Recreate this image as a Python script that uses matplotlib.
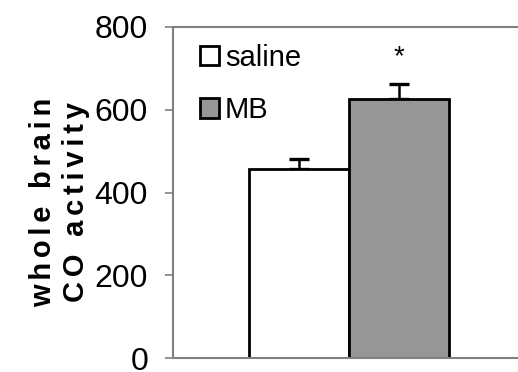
import matplotlib
matplotlib.use('Agg')
import matplotlib.pyplot as plt

groups = ['saline', 'MB']
means = [457, 627]
errs = [24, 35]
colors = ['white', '#969696']
yticks = [0, 200, 400, 600, 800]
ylabel_lines = ['whole brain', 'CO activity']

plt.rcParams['font.family'] = ['Liberation Sans', 'DejaVu Sans']

fig = plt.figure(figsize=(5.18, 3.72), dpi=100)
ax = fig.add_axes([173/518, 14/372, 345/518, 331/372])

x = [0, 1]
ax.bar(x, means, width=1.0, color=colors, edgecolor='black', linewidth=2.0,
       label=groups, zorder=2)
ax.errorbar(x, means, yerr=[[0, 0], errs], fmt='none', ecolor='black',
            elinewidth=1.8, capsize=7, capthick=2.4, zorder=1)
ax.text(1, 728, '*', ha='center', va='center', fontsize=20)

ax.set_ylim(0, 800)
ax.set_xlim(-1.26, 2.19)
ax.set_yticks(yticks)
ax.set_xticks([])
ax.tick_params(axis='y', direction='out', length=6, width=1.2, color='#808080',
               pad=12, labelsize=23)
for s in ['left', 'bottom', 'top']:
    ax.spines[s].set_color('#808080')
    ax.spines[s].set_linewidth(1.5)
ax.spines['right'].set_visible(False)

# widen letter spacing with hair spaces
spaced = ['\u200a\u200a'.join(line) for line in ylabel_lines]
ax.set_ylabel('\n'.join(spaced), fontsize=21, fontweight='bold', linespacing=1.25)
ax.yaxis.set_label_coords(-0.24, 0.47)

ax.legend(loc='upper left', frameon=False, fontsize=21, handlelength=0.65,
          handleheight=0.65, handletextpad=0.2, labelspacing=0.85,
          borderaxespad=0.0, bbox_to_anchor=(0.045, 0.985))

fig.savefig('out.png', dpi=100)
